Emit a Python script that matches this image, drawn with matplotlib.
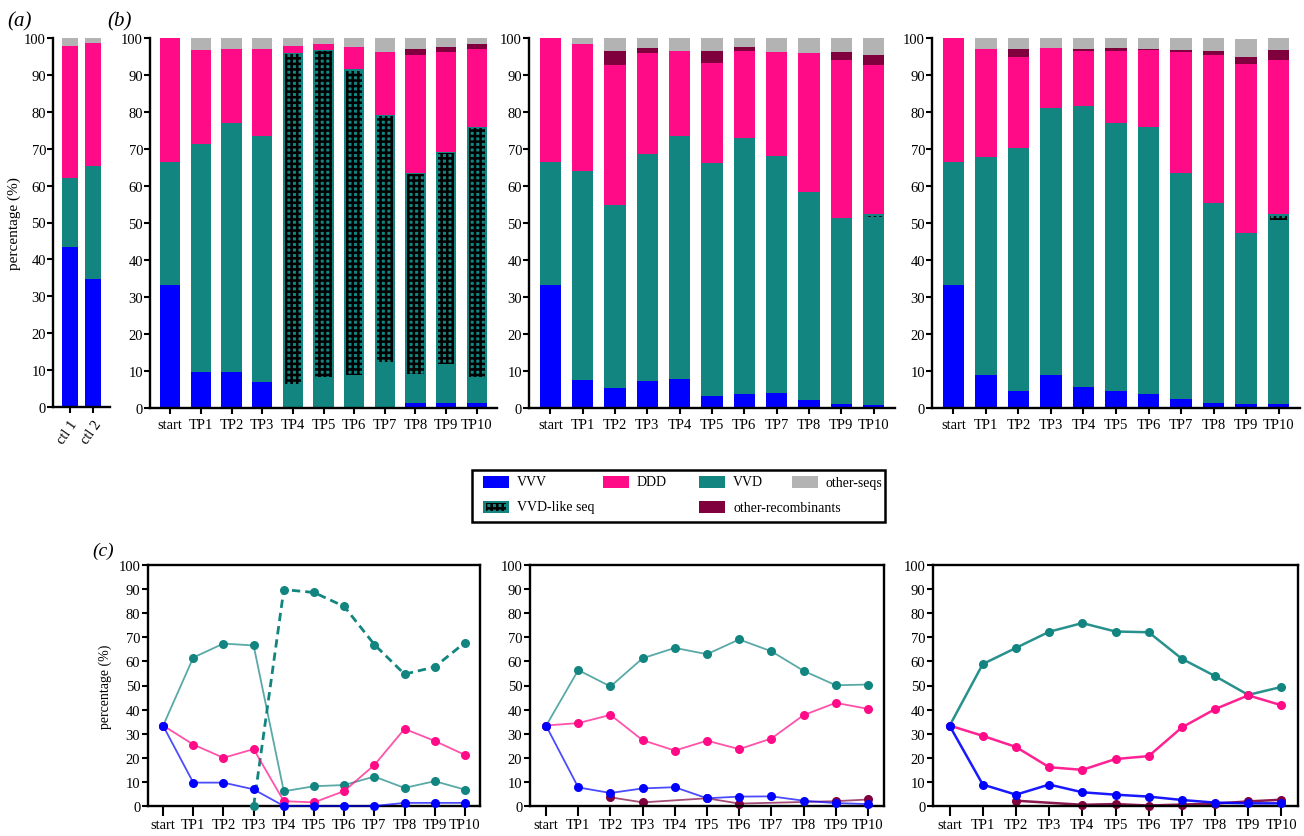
import numpy as np
import matplotlib
matplotlib.use('Agg')
from matplotlib import pyplot as plt
from matplotlib.patches import Rectangle

plt.rcParams['font.family'] = ['Liberation Serif', 'DejaVu Serif']
plt.rcParams['hatch.linewidth'] = 1.8

W, H = 1304, 837
nan = np.nan

timepoints = ['start', 'TP1', 'TP2', 'TP3', 'TP4', 'TP5', 'TP6', 'TP7', 'TP8', 'TP9', 'TP10']

# controls (panel a)
ctl_names = ['ctl 1', 'ctl 2']
ctl_vvv = [43.3, 34.8]
ctl_vvd = [18.7, 30.5]
ctl_ddd = [35.8, 33.4]
ctl_other = [2.2, 1.3]

# replicate 1
vvv1 = [33.3, 9.7, 9.7, 6.9, 0, 0, 0, 0, 1.3, 1.3, 1.3]
vvd1 = [33.3, 61.6, 67.4, 66.6, 6.1, 8.2, 8.7, 12.2, 7.5, 10.3, 6.8]
like1 = [nan, nan, nan, 0, 89.8, 88.6, 82.8, 67.0, 54.7, 57.7, 67.8]
ddd1 = [33.4, 25.5, 20.0, 23.6, 2.0, 1.5, 6.2, 17.0, 32.0, 27.0, 21.2]
rec1 = [nan, nan, nan, nan, nan, nan, nan, nan, 1.5, 1.3, 1.3]
other1 = [0, 3.2, 2.9, 2.9, 2.1, 1.7, 2.3, 3.8, 3.0, 2.4, 1.6]

# replicate 2
vvv2 = [33.3, 7.7, 5.4, 7.3, 7.8, 3.2, 3.9, 4.0, 2.2, 1.2, 0.8]
vvd2 = [33.3, 56.4, 49.6, 61.3, 65.6, 63.0, 69.1, 64.2, 56.1, 50.1, 50.4]
like2 = [nan, nan, nan, nan, nan, nan, nan, nan, nan, nan, 1.1]
ddd2 = [33.4, 34.4, 37.8, 27.3, 23.0, 27.1, 23.6, 28.0, 37.7, 42.8, 40.3]
rec2 = [nan, nan, 3.6, 1.5, nan, 3.2, 1.0, nan, nan, 2.0, 2.7]
other2 = [0, 1.5, 3.6, 2.6, 3.6, 3.5, 2.4, 3.8, 4.0, 3.9, 4.7]

# replicate 3
vvv3 = [33.3, 8.9, 4.7, 8.9, 5.7, 4.7, 3.9, 2.5, 1.4, 1.1, 1.1]
vvd3 = [33.3, 58.9, 65.6, 72.3, 75.9, 72.4, 72.1, 61.1, 53.9, 46.1, 49.4]
like3 = [nan, nan, nan, nan, nan, nan, nan, nan, nan, nan, 1.8]
ddd3 = [33.4, 29.1, 24.5, 16.1, 15.0, 19.5, 20.7, 32.6, 40.2, 45.9, 41.8]
rec3 = [nan, nan, 2.2, nan, 0.5, 0.8, 0.2, 0.6, 1.0, 1.9, 2.6]
other3 = [0, 3.1, 3.0, 2.7, 2.9, 2.6, 3.1, 3.2, 3.5, 4.7, 3.3]

reps = [
    (vvv1, vvd1, like1, ddd1, rec1, other1),
    (vvv2, vvd2, like2, ddd2, rec2, other2),
    (vvv3, vvd3, like3, ddd3, rec3, other3),
]

c_vvv = '#0000ff'
c_ddd = '#ff0a87'
c_vvd = '#128580'
c_other = '#b3b3b3'
c_rec = '#7f003d'

TICK_FS = 10.5


def box(x0, y0, x1, y1):
    return [x0 / W, 1 - y1 / H, (x1 - x0) / W, (y1 - y0) / H]


def style_bar_axes(ax):
    ax.spines['top'].set_visible(False)
    ax.spines['right'].set_visible(False)
    ax.spines['left'].set_linewidth(1.7)
    ax.spines['bottom'].set_linewidth(1.7)
    ax.set_ylim(0, 100)
    ax.set_yticks(range(0, 101, 10))
    ax.tick_params(axis='y', length=4, width=1.5, pad=1, labelsize=TICK_FS)
    ax.tick_params(axis='x', length=4.5, width=1.5, pad=3, labelsize=TICK_FS)


def stacked_bars(ax, vvv, vvd, like, ddd, rec, other, width=0.66):
    x = np.arange(len(vvv))
    like = np.nan_to_num(np.array(like, dtype=float))
    rec = np.nan_to_num(np.array(rec, dtype=float))
    bottom = np.zeros(len(x))
    ax.bar(x, vvv, width, bottom=bottom, color=c_vvv, lw=0)
    bottom += vvv
    ax.bar(x, vvd, width, bottom=bottom, color=c_vvd, lw=0)
    bottom += vvd
    ax.bar(x, like, width, bottom=bottom, color=c_vvd, lw=0)
    # hatch sits a bit inside the teal block
    inner = np.clip(like - 0.6, 0, None)
    ax.bar(x, inner, width * 0.8, bottom=bottom + 0.3, facecolor='none',
           edgecolor='black', hatch='+++', lw=0)
    bottom += like
    ax.bar(x, ddd, width, bottom=bottom, color=c_ddd, lw=0)
    bottom += ddd
    ax.bar(x, rec, width, bottom=bottom, color=c_rec, lw=0)
    bottom += rec
    ax.bar(x, other, width, bottom=bottom, color=c_other, lw=0)
    ax.set_xticks(x)
    ax.set_xticklabels(timepoints)
    ax.set_xlim(-0.66, len(x) - 1 + 0.66)


def draw_line(ax, vals, color, lw, alpha, z, ls='-'):
    x = np.arange(len(vals))
    y = np.array(vals, dtype=float)
    ok = ~np.isnan(y)
    ax.plot(x[ok], y[ok], color=color, lw=lw, alpha=alpha, ls=ls, zorder=z, clip_on=False)
    ax.plot(x[ok], y[ok], 'o', color=color, ms=6.5, mew=0, zorder=z + 0.5, clip_on=False)


fig = plt.figure(figsize=(W / 100, H / 100), dpi=100)

# (a) controls
ax_a = fig.add_axes(box(53, 39, 110, 408))
x = np.arange(len(ctl_names))
b = np.zeros(2)
for vals, col in [(ctl_vvv, c_vvv), (ctl_vvd, c_vvd), (ctl_ddd, c_ddd), (ctl_other, c_other)]:
    ax_a.bar(x, vals, 0.68, bottom=b, color=col, lw=0)
    b += vals
ax_a.set_xlim(-0.72, 1.72)
style_bar_axes(ax_a)
ax_a.set_xticks(x)
ax_a.set_xticklabels(ctl_names, rotation=55, ha='right', rotation_mode='anchor')
ax_a.set_ylabel('percentage (%)', fontsize=11, labelpad=2)

# (b) stacked composition per replicate
bar_boxes = [(150, 39, 497, 409), (529, 39, 895, 409), (932, 39, 1300, 409)]
for bx, rep in zip(bar_boxes, reps):
    ax = fig.add_axes(box(*bx))
    stacked_bars(ax, *rep)
    style_bar_axes(ax)

# (c) trajectories per replicate
line_boxes = [(148, 566, 480, 807), (530, 566, 884, 807), (933, 566, 1298, 807)]
line_w = [1.3, 1.3, 1.8]
line_a = [0.7, 0.7, 0.9]
for k, (bx, rep) in enumerate(zip(line_boxes, reps)):
    vvv, vvd, like, ddd, rec, other = rep
    ax = fig.add_axes(box(*bx))
    lw, al = line_w[k], line_a[k]
    if k > 0:
        draw_line(ax, rec, c_rec, lw, al, 2)
    if k == 0:
        draw_line(ax, like, c_vvd, 2.0, 1.0, 2.5, ls=(0, (3, 1.8)))
    draw_line(ax, vvd, c_vvd, lw, al, 3)
    draw_line(ax, ddd, c_ddd, lw, al, 4)
    draw_line(ax, vvv, c_vvv, lw, al, 5)
    ax.set_xlim(-0.5, 10.5)
    ax.set_ylim(0, 100)
    ax.set_yticks(range(0, 101, 10))
    ax.set_xticks(range(len(timepoints)))
    ax.set_xticklabels(timepoints)
    for s in ax.spines.values():
        s.set_linewidth(1.7)
    ax.tick_params(axis='y', length=4, width=1.5, pad=1.5, labelsize=TICK_FS)
    ax.tick_params(axis='x', length=7, width=1.5, pad=2, labelsize=TICK_FS)
    if k == 0:
        ax.set_ylabel('percentage (%)', fontsize=10, labelpad=5)

# overlay in pixel coordinates for panel letters and the shared legend
ov = fig.add_axes([0, 0, 1, 1])
ov.set_xlim(0, W)
ov.set_ylim(H, 0)
ov.axis('off')
ov.text(7, 22, '(a)', fontsize=15, style='italic', va='center')
ov.text(107, 22, '(b)', fontsize=15, style='italic', va='center')
ov.text(92, 551, '(c)', fontsize=14, style='italic', va='center')

ov.add_patch(Rectangle((472, 471), 413, 52, fill=False, lw=1.8, ec='black'))
legend_items = [
    (483, 483, 'VVV', c_vvv, None),
    (603, 483, 'DDD', c_ddd, None),
    (699, 483, 'VVD', c_vvd, None),
    (792, 483, 'other-seqs', c_other, None),
    (483, 508, 'VVD-like seq', c_vvd, '+++'),
    (699, 508, 'other-recombinants', c_rec, None),
]
for lx, ly, lab, col, hat in legend_items:
    ov.add_patch(Rectangle((lx, ly - 6), 26, 12, facecolor=col, lw=0))
    if hat:
        ov.add_patch(Rectangle((lx + 3, ly - 4), 20, 8, facecolor='none',
                               edgecolor='black', hatch=hat, lw=0))
    ov.text(lx + 34, ly, lab, fontsize=10, va='center')

fig.savefig('out.png', dpi=100)
